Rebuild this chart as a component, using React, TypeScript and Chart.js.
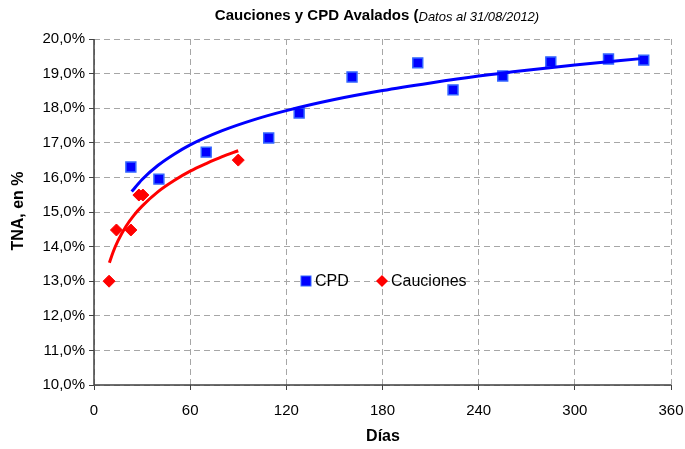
import React, { useEffect, useRef } from "react";
import { Chart, registerables } from "chart.js";

Chart.register(...registerables);

const FONT = "'Liberation Sans', Arial, sans-serif";

// CPD data (days, TNA %)
const cpdDays = [23, 40.5, 70, 109, 128, 161, 202, 224, 255, 285, 321, 343];
const cpdRates = [16.3, 15.95, 16.73, 17.14, 17.86, 18.9, 19.31, 18.53, 18.93, 19.34, 19.42, 19.39];

// Cauciones data
const caucDays = [9.4, 14, 23, 28, 30.5, 90];
const caucRates = [13.0, 14.48, 14.48, 15.49, 15.49, 16.5];

// Trend lines
const cpdTrendDays = [23.5, 30, 40, 50, 60, 80, 100, 120, 150, 180, 210, 240, 270, 300, 343];
const cpdTrendRates = [15.59, 15.94, 16.35, 16.67, 16.94, 17.35, 17.67, 17.93, 18.25, 18.51, 18.73, 18.93, 19.1, 19.25, 19.44];
const caucTrendDays = [9.6, 12, 15, 20, 25, 30, 40, 50, 60, 70, 80, 90];
const caucTrendRates = [13.53, 13.85, 14.17, 14.59, 14.91, 15.17, 15.59, 15.91, 16.18, 16.4, 16.6, 16.77];

const xTicks = [0, 60, 120, 180, 240, 300, 360];
const yMin = 10;
const yMax = 20;

const title = "Cauciones y CPD Avalados (";
const subtitle = "Datos al 31/08/2012)";
const yTitle = "TNA, en %";
const xTitle = "Días";
const legendLabels = ["CPD", "Cauciones"];

const zip = (xs: number[], ys: number[]) => xs.map((x, i) => ({ x, y: ys[i] }));

const axisPlugin = {
  id: "axes",
  beforeDatasetsDraw(chart: any) {
    const ctx = chart.ctx;
    const a = chart.chartArea;
    ctx.save();
    ctx.strokeStyle = "#404040";
    ctx.lineWidth = 1.5;
    ctx.setLineDash([]);
    ctx.beginPath();
    ctx.moveTo(a.left, a.top);
    ctx.lineTo(a.left, a.bottom);
    ctx.lineTo(a.right, a.bottom);
    ctx.stroke();
    ctx.restore();
  },
};

const textPlugin = {
  id: "texts",
  afterDraw(chart: any) {
    const ctx = chart.ctx;
    ctx.save();
    ctx.fillStyle = "#000";
    ctx.textBaseline = "middle";
    // Title
    ctx.font = `bold 15px ${FONT}`;
    const w1 = ctx.measureText(title).width;
    ctx.font = `italic 13px ${FONT}`;
    const w2 = ctx.measureText(subtitle).width;
    const start = 377 - (w1 + w2) / 2;
    ctx.textAlign = "left";
    ctx.font = `bold 15px ${FONT}`;
    ctx.fillText(title, start, 16);
    ctx.font = `italic 13px ${FONT}`;
    ctx.fillText(subtitle, start + w1, 17);
    // X title
    ctx.textAlign = "center";
    ctx.font = `bold 16px ${FONT}`;
    ctx.fillText(xTitle, 383, 437);
    // Y title
    ctx.save();
    ctx.translate(19, 211);
    ctx.rotate(-Math.PI / 2);
    ctx.fillText(yTitle, 0, 0);
    ctx.restore();
    // Legend
    const ly = 281;
    ctx.fillStyle = "#0000ff";
    ctx.strokeStyle = "#3366ff";
    ctx.lineWidth = 1;
    ctx.fillRect(301, ly - 5, 10, 10);
    ctx.strokeRect(301, ly - 5, 10, 10);
    ctx.fillStyle = "#000";
    ctx.textAlign = "left";
    ctx.font = `16px ${FONT}`;
    ctx.fillText(legendLabels[0], 315, ly + 1);
    ctx.fillStyle = "#ff0000";
    ctx.beginPath();
    ctx.moveTo(382, ly - 6);
    ctx.lineTo(388, ly);
    ctx.lineTo(382, ly + 6);
    ctx.lineTo(376, ly);
    ctx.closePath();
    ctx.fill();
    ctx.fillStyle = "#000";
    ctx.fillText(legendLabels[1], 391, ly + 1);
    ctx.restore();
  },
};

const gridOpts = {
  color: "#a6a6a6",
  lineWidth: 1,
  drawTicks: true,
  tickLength: 5,
  tickColor: "#404040",
  tickBorderDash: [],
} as any;

const borderOpts = { display: false, dash: [6, 4] } as any;

export default function App() {
  const ref = useRef<HTMLCanvasElement | null>(null);
  useEffect(() => {
    document.body.style.margin = "0";
    const canvas = ref.current!;
    const chart = new Chart(canvas, {
      type: "scatter",
      data: {
        datasets: [
          {
            label: "CPD trend",
            data: zip(cpdTrendDays, cpdTrendRates),
            showLine: true,
            pointRadius: 0,
            borderColor: "#0000ff",
            borderWidth: 3,
            cubicInterpolationMode: "monotone",
            order: 0,
          } as any,
          {
            label: "Cauciones trend",
            data: zip(caucTrendDays, caucTrendRates),
            showLine: true,
            pointRadius: 0,
            borderColor: "#ff0000",
            borderWidth: 3,
            cubicInterpolationMode: "monotone",
            order: 0,
          },
          {
            label: legendLabels[0],
            data: zip(cpdDays, cpdRates),
            pointStyle: "rect",
            pointRadius: 7,
            backgroundColor: "#0000ff",
            borderColor: "#3366ff",
            borderWidth: 1.5,
            order: 1,
          },
          {
            label: legendLabels[1],
            data: zip(caucDays, caucRates),
            pointStyle: "rectRot",
            pointRadius: 6,
            backgroundColor: "#ff0000",
            borderColor: "#ff0000",
            borderWidth: 1,
            order: 1,
          },
        ],
      },
      options: {
        responsive: false,
        animation: false,
        layout: { padding: { left: 0, top: 39, right: 14, bottom: 0 } },
        plugins: { legend: { display: false }, tooltip: { enabled: false }, title: { display: false } },
        scales: {
          x: {
            type: "linear",
            min: 0,
            max: 360,
            afterBuildTicks: (s: any) => {
              s.ticks = xTicks.map((v) => ({ value: v }));
            },
            afterFit: (s: any) => {
              s.height = 64;
              s.paddingLeft = 0;
              s.paddingRight = 0;
            },
            ticks: {
              color: "#000",
              font: { family: FONT, size: 15 },
              padding: 12,
              maxRotation: 0,
              autoSkip: false,
            },
            grid: gridOpts,
            border: borderOpts,
          },
          y: {
            type: "linear",
            min: yMin,
            max: yMax,
            afterFit: (s: any) => {
              s.width = 94;
              s.paddingTop = 0;
              s.paddingBottom = 0;
            },
            ticks: {
              stepSize: 1,
              color: "#000",
              font: { family: FONT, size: 15 },
              padding: 4,
              callback: (v: any) => Number(v).toFixed(1).replace(".", ",") + "%",
            },
            grid: gridOpts,
            border: borderOpts,
          },
        },
      },
      plugins: [axisPlugin, textPlugin],
    });
    return () => chart.destroy();
  }, []);
  return (
    <div style={{ position: "absolute", left: 0, top: 0, width: 685, height: 449, background: "#fff" }}>
      <canvas ref={ref} width={685} height={449} style={{ width: 685, height: 449 }} />
    </div>
  );
}
